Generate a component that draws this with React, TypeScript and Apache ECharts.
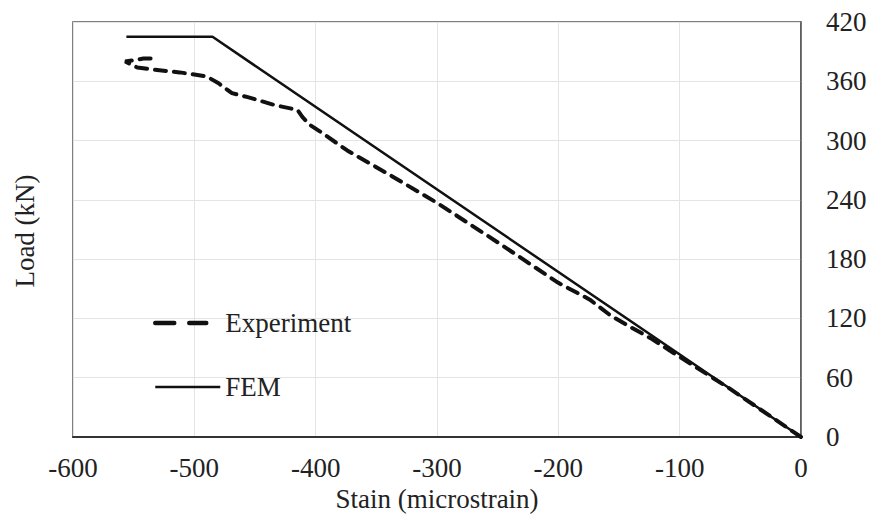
import React, { useEffect, useRef } from "react";
import * as echarts from "echarts";

const xTicks = [-600, -500, -400, -300, -200, -100, 0];
const yTicks = [0, 60, 120, 180, 240, 300, 360, 420];

const experimentStrain = [0, -60, -105, -124, -143, -157, -174, -200, -250, -300, -340, -374, -395, -405, -411, -415, -434, -456, -469, -480, -490, -512, -535, -547, -557, -542, -530];
const experimentLoad = [0, 50, 85, 100, 113, 123, 139, 156, 197, 237, 266, 290, 308, 316, 324, 331, 336, 344, 348, 358, 365, 369, 372, 374, 380, 383, 383];

const femStrain = [0, -485, -556];
const femLoad = [0, 405, 405];

const FONT = "'Liberation Serif', 'Times New Roman', serif";
const FS = 27;

export default function App() {
  const ref = useRef<HTMLDivElement>(null);
  useEffect(() => {
    if (!ref.current) return;
    const chart = echarts.init(ref.current, null, { renderer: "svg" });
    chart.setOption({
      animation: false,
      backgroundColor: "#ffffff",
      grid: {
        left: 73,
        right: 70,
        top: 22,
        bottom: 84,
        show: true,
        borderColor: "#555",
        borderWidth: 1.5,
      },
      legend: {
        orient: "vertical",
        left: 148,
        top: 303,
        itemWidth: 65,
        itemHeight: 30,
        itemGap: 34,
        itemTextGap: 5,
        itemStyle: { opacity: 0 },
        textStyle: { fontFamily: FONT, fontSize: FS, color: "#222", lineHeight: 30 },
        data: [
          { name: "Experiment", itemStyle: { opacity: 0 }, lineStyle: { width: 4.5, type: [19, 15, 17, 80] } },
          { name: "FEM", itemStyle: { opacity: 0 }, lineStyle: { width: 2.5 } },
        ],
      },
      xAxis: {
        type: "value",
        min: xTicks[0],
        max: xTicks[xTicks.length - 1],
        interval: 100,
        name: "Stain (microstrain)",
        nameLocation: "middle",
        nameGap: 47,
        nameTextStyle: { fontFamily: FONT, fontSize: FS, color: "#222" },
        axisLine: { show: true, onZero: false, lineStyle: { color: "#333", width: 2 } },
        axisTick: { show: false },
        axisLabel: { fontFamily: FONT, fontSize: FS, color: "#222", margin: 17 },
        splitLine: { show: true, lineStyle: { color: "#e4e4e4", width: 1 } },
      },
      yAxis: {
        type: "value",
        position: "right",
        min: yTicks[0],
        max: yTicks[yTicks.length - 1],
        interval: 60,
        axisLine: { show: true, lineStyle: { color: "#555", width: 1.5 } },
        axisTick: { show: false },
        axisLabel: { fontFamily: FONT, fontSize: FS, color: "#222", margin: 25 },
        splitLine: { show: true, lineStyle: { color: "#e4e4e4", width: 1 } },
      },
      graphic: [
        {
          type: "text",
          x: 25,
          y: 231,
          rotation: Math.PI / 2,
          style: {
            text: "Load (kN)",
            fontFamily: FONT,
            fontSize: FS,
            fill: "#222",
            align: "center",
            verticalAlign: "middle",
          },
        },
      ],
      series: [
        {
          name: "Experiment",
          type: "line",
          symbol: "none",
          data: experimentStrain.map((s, i) => [s, experimentLoad[i]]),
          lineStyle: { color: "#111", width: 4, type: [11, 8], cap: "round" },
          itemStyle: { color: "#111" },
        },
        {
          name: "FEM",
          type: "line",
          symbol: "none",
          data: femStrain.map((s, i) => [s, femLoad[i]]),
          lineStyle: { color: "#111", width: 2.5 },
          itemStyle: { color: "#111" },
        },
      ],
    });
    return () => chart.dispose();
  }, []);
  return (
    <div
      ref={ref}
      style={{ position: "absolute", left: 0, top: 0, width: 871, height: 521 }}
    />
  );
}
